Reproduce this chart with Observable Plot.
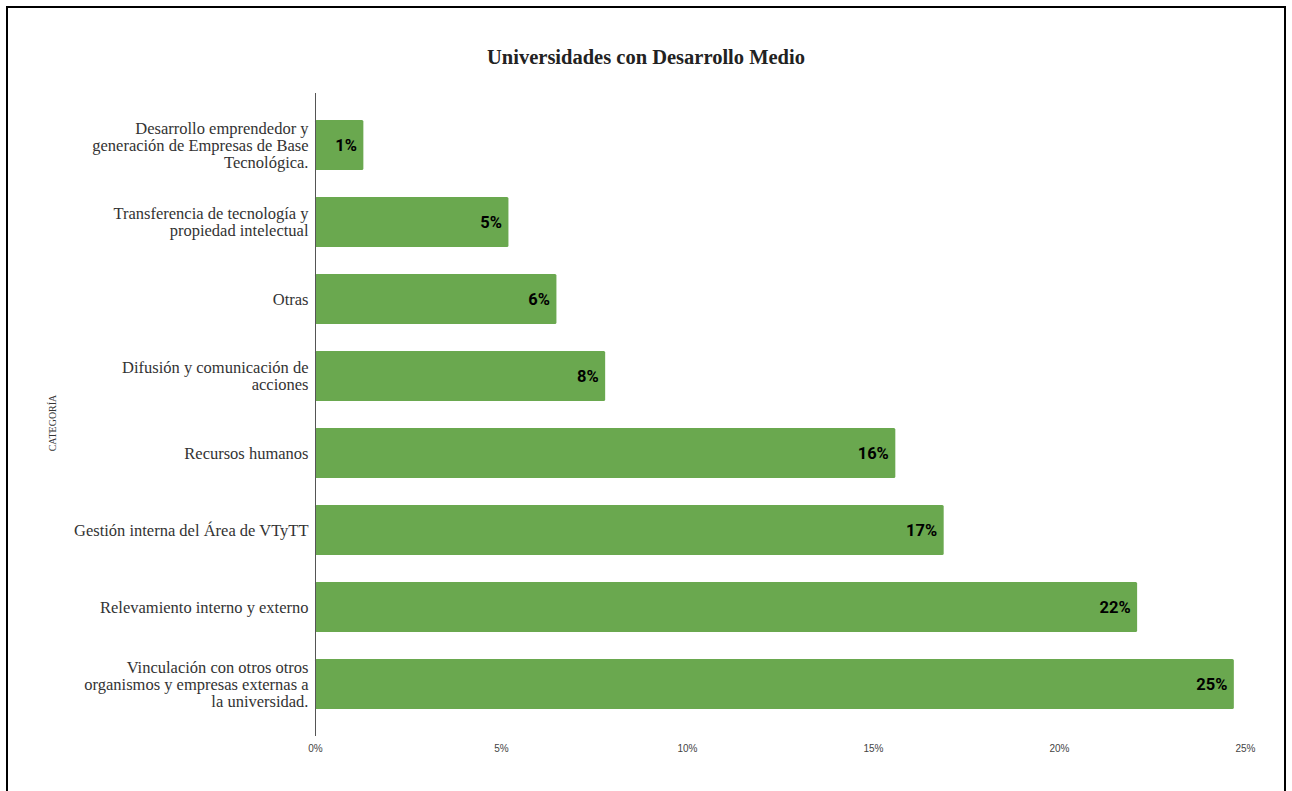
<!DOCTYPE html>
<html>
<head>
<meta charset="utf-8">
<script src="https://cdn.jsdelivr.net/npm/d3@7"></script>
<script src="https://cdn.jsdelivr.net/npm/@observablehq/plot@0.6"></script>
<style>
  html, body { margin: 0; padding: 0; background: #fff; width: 1292px; height: 791px; overflow: hidden; }
  #frame { position: absolute; left: 6px; top: 6px; width: 1280px; height: 800px; border: 2px solid #000; box-sizing: border-box; }
  #title { position: absolute; left: 0; top: 44px; width: 1292px; text-align: center; font-family: "Liberation Serif", serif; font-weight: bold; font-size: 20.5px; color: #222; line-height: 26px; }
  #chart { position: absolute; left: 0; top: 80px; }
</style>
</head>
<body>
<div id="frame"></div>
<div id="title">Universidades con Desarrollo Medio</div>
<div id="chart"></div>
<script>
const categories = [
  "Desarrollo emprendedor y\ngeneración de Empresas de Base\nTecnológica.",
  "Transferencia de tecnología y\npropiedad intelectual",
  "Otras",
  "Difusión y comunicación de\nacciones",
  "Recursos humanos",
  "Gestión interna del Área de VTyTT",
  "Relevamiento interno y externo",
  "Vinculación con otros otros\norganismos y empresas externas a\nla universidad."
];
const values = [1.3, 5.2, 6.49, 7.8, 15.6, 16.9, 22.1, 24.7];
const valueLabels = ["1%", "5%", "6%", "8%", "16%", "17%", "22%", "25%"];
const xTicks = [0, 5, 10, 15, 20, 25];
const axisTitle = "CATEGORÍA";

const data = categories.map((c, i) => ({category: c, value: values[i], label: valueLabels[i]}));

const chart = Plot.plot({
  width: 1292,
  height: 711,
  marginLeft: 315,
  marginRight: 47,
  marginTop: 13,
  marginBottom: 55,
  style: {background: "transparent", overflow: "visible"},
  x: {domain: [0, 25], ticks: xTicks},
  y: {domain: categories, paddingInner: 0.35, paddingOuter: 0.34},
  marks: [
    Plot.gridX(xTicks, {stroke: "#d0d0d0", strokeOpacity: 1, strokeWidth: 1, y1: -1}),
    Plot.axisX(xTicks, {tickSize: 0, tickPadding: 8, tickFormat: d => d + "%", fontSize: 10, fontFamily: "Liberation Sans, Arial, sans-serif", fill: "#444", label: null}),
    Plot.barX(data, {y: "category", x: "value", fill: "#6aa84f", rx: 1.5}),
    Plot.ruleX([0], {stroke: "#555", strokeWidth: 1}),
    Plot.axisY({tickSize: 0, tickPadding: 7, fontSize: 16.5, fontFamily: "Liberation Serif, serif", fill: "#333", lineHeight: 1.03, label: null}),
    Plot.text(data, {y: "category", x: "value", text: "label", textAnchor: "end", dx: -7, fontSize: 16.5, fontWeight: "bold", fontFamily: "Roboto, sans-serif", fill: "#000"}),
    Plot.text([axisTitle], {frameAnchor: "left", textAnchor: "middle", dx: -263, dy: 8, rotate: -90, fontSize: 10, fontFamily: "Liberation Serif, serif", fill: "#333"})
  ]
});
document.getElementById("chart").appendChild(chart);
</script>
</body>
</html>
